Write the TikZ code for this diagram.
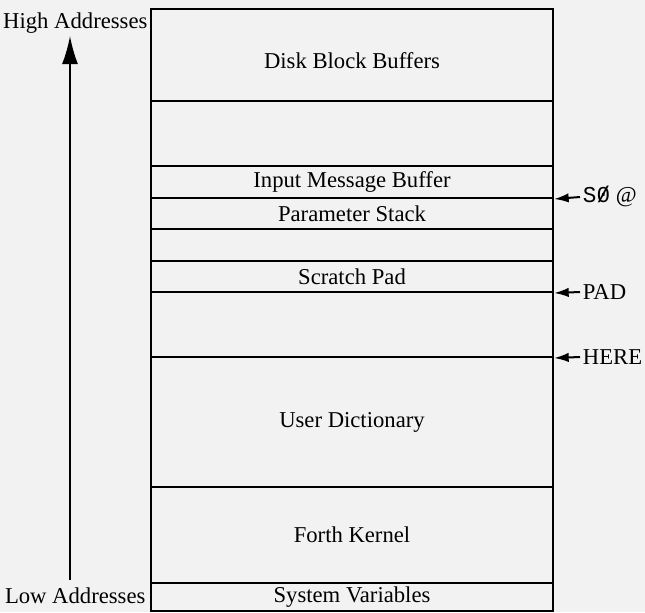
\documentclass[tikz,border=0pt]{standalone}
\usepackage{fontspec}
\setmainfont{Liberation Serif}
\newfontfamily\monofont{Liberation Mono}
\usetikzlibrary{arrows.meta}
\begin{document}
\begin{tikzpicture}[x=0.75pt,y=-0.75pt,
  region/.style={draw, line width=1.5pt, anchor=north west, minimum width=301.5pt, inner sep=0pt, font=\fontsize{17}{20}\selectfont},
  sidelabel/.style={inner sep=1pt, font=\fontsize{17}{20}\selectfont},
  ptrlabel/.style={anchor=west, inner sep=2pt, font=\fontsize{17}{20}\selectfont},
  ptr/.style={line width=1.5pt, -{Latex[length=11pt,width=7pt]}},
  bigarrow/.style={line width=1.4pt, -{Latex[length=21pt,width=12pt]}}]
\useasboundingbox[fill=black!5] (0,0) rectangle (645,612);
\node[region, minimum height=69pt]    (disk) at (150,8)   {\raisebox{-10pt}[0pt][0pt]{Disk Block Buffers}};
\node[region, minimum height=48.75pt] (free1) at (150,100) {};
\node[region, minimum height=24pt]    (imb) at (150,165)  {Input Message Buffer};
\node[region, minimum height=23.25pt] (ps) at (150,197)   {Parameter Stack};
\node[region, minimum height=24pt]    (free2) at (150,228) {};
\node[region, minimum height=23.25pt] (sp) at (150,260)   {Scratch Pad};
\node[region, minimum height=48.75pt] (free3) at (150,291) {};
\node[region, minimum height=97.5pt]  (ud) at (150,356)   {User Dictionary};
\node[region, minimum height=72pt]    (fk) at (150,486)   {Forth Kernel};
\node[region, minimum height=21pt]    (sv) at (150,582)   {System Variables};

\node[sidelabel, anchor=base east] (high) at (149,28) {High Addresses};
\node[sidelabel, anchor=base east] (low) at (147,603) {Low Addresses};
\coordinate (arrowbot) at (70,580);
\coordinate (arrowtop) at (70,36);
\draw[bigarrow] (arrowbot) -- (arrowtop);

\node[ptrlabel] (s0) at (580,197) {{\monofont S\ooalign{0\cr\hidewidth/\hidewidth}} @};
\node[ptrlabel] (pad) at (580,292) {PAD};
\node[ptrlabel] (here) at (580,357) {HERE};
\draw[ptr] (s0.west) -- (imb.south east);
\draw[ptr] (pad.west) -- (sp.south east);
\draw[ptr] (here.west) -- (free3.south east);
\end{tikzpicture}
\end{document}
